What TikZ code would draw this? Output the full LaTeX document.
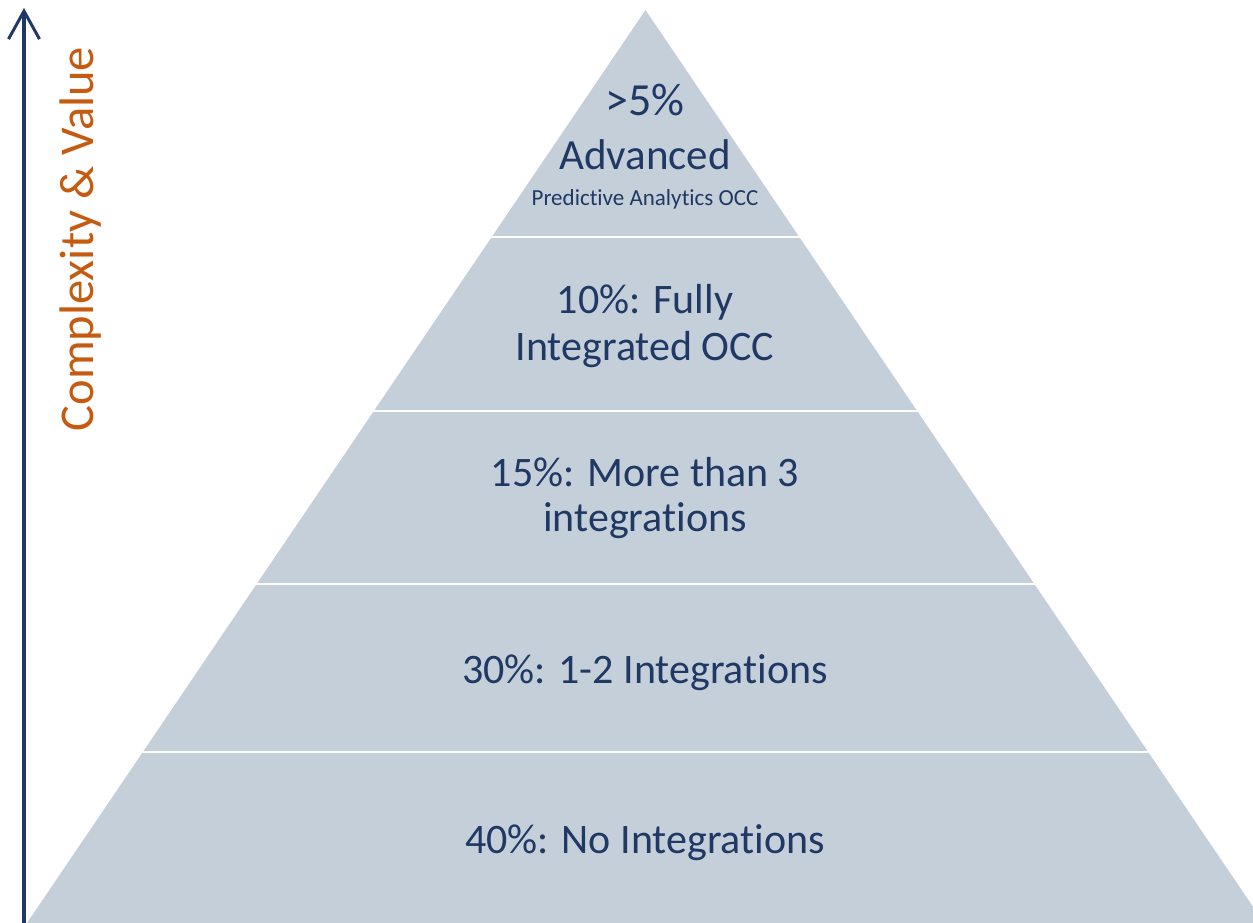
\documentclass[tikz,border=0pt]{standalone}
\usepackage{fontspec}
\setmainfont{Carlito}[Ligatures={NoCommon}]
\usetikzlibrary{arrows.meta}
\definecolor{pyr}{HTML}{C5CFDA}
\definecolor{navy}{HTML}{1F3864}
\definecolor{orng}{HTML}{C55A11}
\tikzset{
  lbl/.style={inner sep=0pt, anchor=base, text=navy, font=\fontsize{42}{47}\selectfont},
  lbltop/.style={lbl, font=\fontsize{43}{48}\selectfont},
  lblsmall/.style={lbl, font=\fontsize{23}{27}\selectfont},
  sep/.style={white, line width=2pt},
  axis/.style={navy, line width=3.5pt, -{Straight Barb[length=28pt,width=31pt,line width=3pt]}}
}
\begin{document}
\begin{tikzpicture}[x=1pt,y=-1pt]
\useasboundingbox (0,0) rectangle (1253,923);
\coordinate (apex) at (645.5,10);
\coordinate (bl) at (27,923);
\coordinate (br) at (1264,923);
\begin{scope}
  \clip (0,0) rectangle (1253,923);
  \fill[pyr] (apex) -- (br) -- (bl) -- cycle;
  \clip (apex) -- (br) -- (bl) -- cycle;
  \foreach \yy in {237,411,584,752} {
    \draw[sep] (0,\yy) -- (1253,\yy);
  }
\end{scope}
% axis
\coordinate (ax0) at (24,923);
\coordinate (ax1) at (24,8);
\draw[axis] (ax0) -- (ax1);
\node[inner sep=0pt, anchor=base, rotate=90, text=orng, font=\fontsize{48.5}{54}\selectfont] (axlabel) at (93,239) {Complexity \& Value};
% labels
\node[lbltop, font=\fontsize{46}{50}\selectfont] (t1) at (645,116) {>5\%};
\node[lbltop] (t2) at (645,170) {Advanced};
\node[lblsmall] (t3) at (645,205) {Predictive Analytics OCC};
\node[lbl] (f1) at (645,313) {10\%: Fully};
\node[lbl] (f2) at (645,360.5) {Integrated OCC};
\node[lbl] (m1) at (645,486) {15\%: More than 3};
\node[lbl] (m2) at (645,531.5) {integrations};
\node[lbl] (i1) at (645,683) {30\%: 1-2 Integrations};
\node[lbl] (n1) at (645,853) {40\%: No Integrations};
\end{tikzpicture}
\end{document}
